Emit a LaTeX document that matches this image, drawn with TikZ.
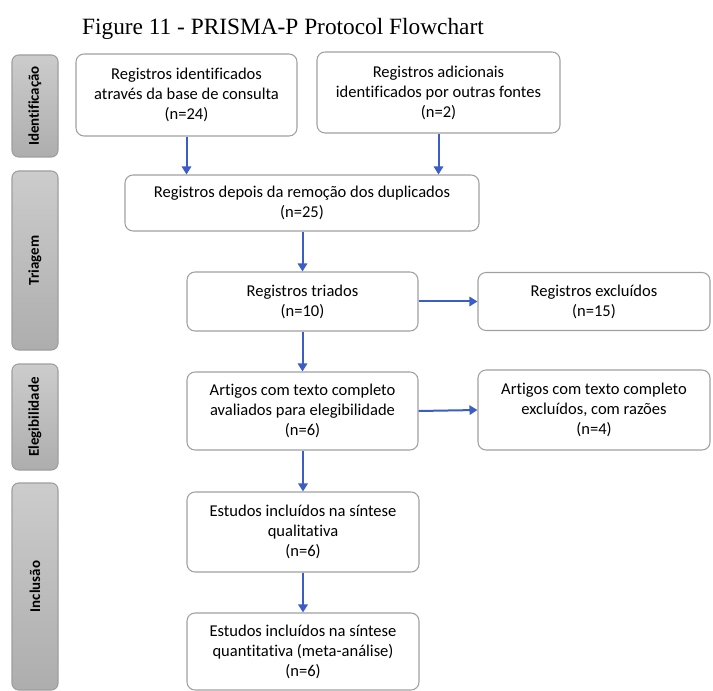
\documentclass[tikz,border=0pt]{standalone}
\usepackage{fontspec}
\setmainfont[Ligatures=NoCommon]{Carlito}
\newfontfamily\titlefont{Liberation Serif}
\usetikzlibrary{positioning,arrows.meta,calc}
\definecolor{flowblue}{RGB}{60,92,198}
\definecolor{boxline}{RGB}{160,160,160}
\tikzset{
  box/.style={rectangle, rounded corners=6pt, draw=boxline, line width=0.8pt, fill=white, align=center, inner sep=0pt, font=\fontsize{12.4}{15}\selectfont},
  phase/.style={rectangle, rounded corners=5pt, draw=black!38, line width=0.8pt, top color=black!20, bottom color=black!32, minimum width=34.5pt, inner sep=0pt},
  phaselabel/.style={rotate=90, font=\fontsize{11.2}{13}\selectfont\bfseries},
  connect/.style={-{Triangle[length=6pt,width=7pt]}, line width=1.5pt, draw=flowblue}
}

\begin{document}
\begin{tikzpicture}[x=0.75pt, y=-0.75pt]
  \useasboundingbox (0,0) rectangle (713,691);
  \node[font=\titlefont\fontsize{17.5}{20}\selectfont, anchor=base] (title) at (283,35) {Figure 11 - PRISMA-P Protocol Flowchart};

  % phases on the left
  \node[phase, minimum height=76.5pt] (ident) at (35,106) {};
  \node[phaselabel] at (ident) {Identificação};
  \node[phase, minimum height=134.25pt] (triag) at (35,260.5) {};
  \node[phaselabel] at (triag) {Triagem};
  \node[phase, minimum height=79.5pt] (elegi) at (35,417) {};
  \node[phaselabel] at (elegi) {Elegibilidade};
  \node[phase, minimum height=155.25pt] (inclu) at (35,586.5) {};
  \node[phaselabel] at (inclu) {Inclusão};

  % identification
  \node[box, minimum width=165.75pt, minimum height=61.5pt] (base) at (186.5,95)
    {Registros identificados\\através da base de consulta\\(n=24)};
  \node[box, minimum width=182.25pt, minimum height=60.75pt] (outras) at (438.5,92.5)
    {Registros adicionais\\identificados por outras fontes\\(n=2)};

  % screening
  \node[box, minimum width=265.5pt, minimum height=42pt] (dupl) at (302,203)
    {Registros depois da remoção dos duplicados\\(n=25)};
  \node[box, minimum width=173.25pt, minimum height=44.25pt] (triados) at (302.5,301.5)
    {Registros triados\\(n=10)};
  \node[box, minimum width=174pt, minimum height=43.5pt] (excl) at (594,301.5)
    {Registros excluídos\\(n=15)};

  % eligibility
  \node[box, minimum width=173.25pt, minimum height=58.5pt] (texto) at (302.5,411)
    {Artigos com texto completo\\avaliados para elegibilidade\\(n=6)};
  \node[box, minimum width=174pt, minimum height=60pt] (textoexcl) at (594,410)
    {Artigos com texto completo\\excluídos, com razões\\(n=4)};

  % included
  \node[box, minimum width=174pt, minimum height=60pt] (quali) at (303,532)
    {Estudos incluídos na síntese\\qualitativa\\(n=6)};
  \node[box, minimum width=174pt, minimum height=57.75pt] (quanti) at (303,651.5)
    {Estudos incluídos na síntese\\quantitativa (meta-análise)\\(n=6)};

  % arrows
  \draw[connect] (base.south) -- (base.south |- dupl.north);
  \draw[connect] (outras.south) -- (outras.south |- dupl.north);
  \draw[connect] (dupl.south -| triados.north) -- (triados.north);
  \draw[connect] (triados.east) -- (excl.west);
  \draw[connect] (triados.south) -- (texto.north);
  \draw[connect] (texto.east) -- (textoexcl.west);
  \draw[connect] (texto.south -| quali.north) -- (quali.north);
  \draw[connect] (quali.south) -- (quanti.north);
\end{tikzpicture}
\end{document}
